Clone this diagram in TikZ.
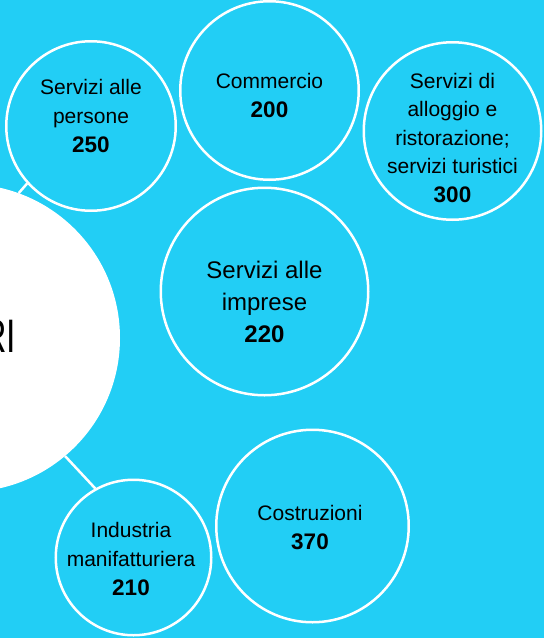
\documentclass[tikz,border=0pt]{standalone}
\usepackage{fontspec}
\setmainfont{Liberation Sans}
\usepackage{xcolor}
\usepackage{tikz}
\usetikzlibrary{positioning}
\definecolor{sky}{RGB}{34,206,245}

\begin{document}
\begin{tikzpicture}[x=1pt, y=-1pt,
        bubble/.style={draw=white, line width=2.5pt, circle, inner sep=0pt},
        txt/.style={align=center, font=\fontsize{21}{29}\selectfont},
        link/.style={draw=white, line width=2.5pt}]
        \useasboundingbox (0,0) rectangle (544,638);
        \fill[sky] (0,0) rectangle (544,638);
        \clip (0,0) rectangle (544,638);

        \node[circle, fill=white, inner sep=0pt, minimum size=308pt] (Ct) at (-34,338) {};
        \node[anchor=base east, inner sep=0pt, font=\fontsize{47}{47}\selectfont] (Rt) at (16.5,352) {\scalebox{0.72}[1]{RI}};

        \node[bubble, minimum size=169.5pt] (Sp) at (91,126) {};
        \node[txt] (Tp) at ([yshift=10.5pt]Sp) {Servizi alle\\persone\\\fontsize{22.5}{29}\selectfont\textbf{250}};

        \node[bubble, minimum size=178.5pt] (Co) at (269.5,90.5) {};
        \node[txt] (Tc) at ([yshift=-4.5pt]Co) {Commercio\\\fontsize{22.5}{29}\selectfont\textbf{200}};

        \node[bubble, minimum size=177.5pt] (Sa) at (452.5,131) {};
        \node[txt, font=\fontsize{21}{28.5}\selectfont] (Ta) at ([yshift=-7pt]Sa) {Servizi di\\alloggio e\\ristorazione;\\servizi turistici\\\fontsize{22.5}{30}\selectfont\textbf{300}};

        \node[bubble, minimum size=207.5pt] (Si) at (264.5,291.5) {};
        \node[txt, font=\fontsize{24}{32}\selectfont] (Ti) at ([yshift=-10pt]Si) {Servizi alle\\imprese\\\fontsize{24}{33}\selectfont\textbf{220}};

        \node[bubble, minimum size=155.5pt] (Im) at (133.5,557.5) {};
        \node[txt] (Tm) at ([xshift=-2.5pt, yshift=-1pt]Im) {Industria\\manifatturiera\\\fontsize{22.5}{30}\selectfont\textbf{210}};

        \node[bubble, minimum size=192.5pt] (Cs) at (312.5,526) {};
        \node[txt] (Ts) at ([xshift=-2.5pt, yshift=-2pt]Cs) {Costruzioni\\\fontsize{22.5}{31}\selectfont\textbf{370}};

        \draw[link] (Ct.70) -- (Sp.222);
        \draw[link] (Ct.-50) -- (Im.119);
    \end{tikzpicture}
\end{document}
